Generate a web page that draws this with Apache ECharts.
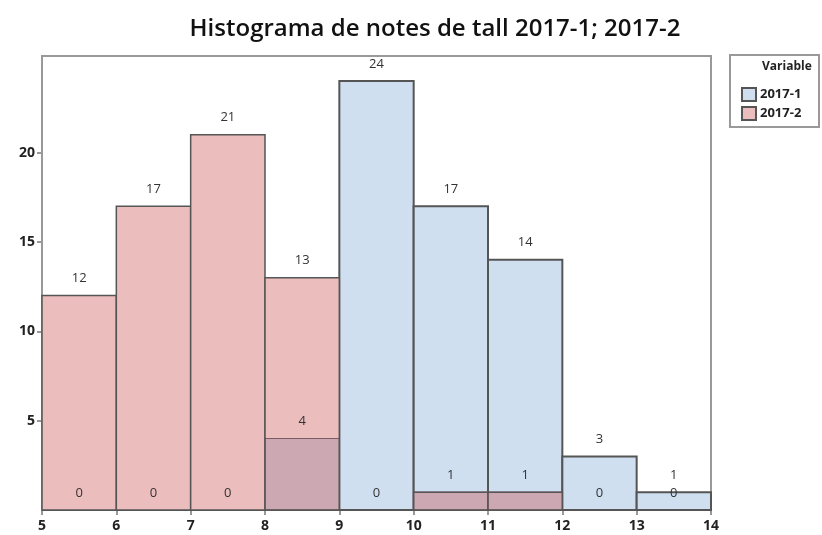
<!DOCTYPE html>
<html><head><meta charset="utf-8">
<script src="https://cdn.jsdelivr.net/npm/echarts@6/dist/echarts.min.js"></script>
<style>html,body{margin:0;padding:0;background:#fff}#c{width:822px;height:535px}</style>
</head><body><div id="c"></div>
<script>
var binStarts = [5, 6, 7, 8, 9, 10, 11, 12, 13];
var binWidth = 1;
var values2017_1 = [0, 0, 0, 4, 24, 17, 14, 3, 1];
var values2017_2 = [12, 17, 21, 13, 0, 1, 1, 0, 0];
var xTicks = [5, 6, 7, 8, 9, 10, 11, 12, 13, 14];
var yTicks = [5, 10, 15, 20];

var FONT = '"Open Sans", "Noto Sans", sans-serif';
var BLUE = '#cfdff0', RED = '#ebbdbd', OVER = '#cca8b2', EDGE = '#555555';

function dataFor(vals) {
  return binStarts.map(function (s, i) { return [s, s + binWidth, vals[i], i]; });
}

function makeRender(isRed) {
  return function (params, api) {
    var x0 = api.value(0), x1 = api.value(1), v = api.value(2), i = api.value(3);
    var p0 = api.coord([x0, 0]);
    var p1 = api.coord([x1, v]);
    var rect = { x: p0[0], y: p1[1], width: p1[0] - p0[0], height: p0[1] - p1[1] };
    var children = [];
    children.push({ type: 'rect', shape: rect, style: { fill: isRed ? RED : BLUE, stroke: null } });
    if (isRed) {
      var m = Math.min(values2017_1[i], values2017_2[i]);
      if (m > 0) {
        var q = api.coord([x1, m]);
        children.push({ type: 'rect', shape: { x: p0[0], y: q[1], width: q[0] - p0[0], height: p0[1] - q[1] },
          style: { fill: OVER, stroke: '#7d5a62', lineWidth: 1 } });
      }
    }
    children.push({ type: 'rect', shape: rect, style: { fill: null, stroke: EDGE, lineWidth: isRed ? 1.5 : 2 } });
    return { type: 'group', children: children };
  };
}

function renderLabels(params, api) {
  var x0 = api.value(0), x1 = api.value(1), v = api.value(2);
  var p0 = api.coord([x0, 0]);
  var p1 = api.coord([x1, v]);
  return { type: 'text', style: { text: String(v), x: (p0[0] + p1[0]) / 2, y: p1[1] - 17,
    align: 'center', verticalAlign: 'middle', fill: '#333', font: '13px ' + FONT } };
}

var chart = echarts.init(document.getElementById('c'));
chart.setOption({
  animation: false,
  title: { text: 'Histograma de notes de tall 2017-1; 2017-2', left: 430, top: 12, textAlign: 'center',
    textStyle: { fontFamily: FONT, fontWeight: 600, fontSize: 24, color: '#111' } },
  grid: { left: 42, right: 111, top: 56, bottom: 25, show: true, borderColor: '#999', borderWidth: 2,
    backgroundColor: 'transparent', outerBoundsMode: 'none', containLabel: false },
  xAxis: { type: 'value', min: 5, max: 14, interval: 1,
    axisLine: { show: false },
    axisTick: { show: true, length: 5, lineStyle: { color: '#999', width: 2 } },
    axisLabel: { fontFamily: FONT, fontWeight: 'bold', fontSize: 14, color: '#222', margin: 9,
      formatter: function (v) { return xTicks.indexOf(v) >= 0 ? String(v) : ''; } },
    splitLine: { show: false } },
  yAxis: { type: 'value', min: 0, max: 25.4, interval: 5,
    axisLine: { show: false },
    axisTick: { show: true, length: 5, lineStyle: { color: '#999', width: 2 },
      customValues: yTicks },
    axisLabel: { fontFamily: FONT, fontWeight: 'bold', fontSize: 14, color: '#222', margin: 7,
      customValues: yTicks },
    splitLine: { show: false } },
  legend: { orient: 'vertical', left: 736, top: 82, itemWidth: 14, itemHeight: 13, itemGap: 4,
    icon: 'rect', selectedMode: false,
    textStyle: { fontFamily: FONT, fontWeight: 'bold', fontSize: 13, color: '#222', padding: [0, 0, 0, -1] },
    data: [
      { name: '2017-1', itemStyle: { color: BLUE, borderColor: EDGE, borderWidth: 2 } },
      { name: '2017-2', itemStyle: { color: RED, borderColor: EDGE, borderWidth: 2 } }
    ] },
  graphic: [
    { type: 'rect', left: 729, top: 54, shape: { width: 89, height: 72 }, style: { fill: '#fff', stroke: '#999', lineWidth: 2 }, z: -1 },
    { type: 'text', left: 762, top: 61, style: { text: 'Variable', font: 'bold 12px ' + FONT, fill: '#222' } }
  ],
  series: [
    { name: '2017-1', type: 'custom', renderItem: makeRender(false), data: dataFor(values2017_1),
      encode: { x: [0, 1], y: 2 }, itemStyle: { color: BLUE, borderColor: EDGE }, z: 2 },
    { name: '2017-2', type: 'custom', renderItem: makeRender(true), data: dataFor(values2017_2),
      encode: { x: [0, 1], y: 2 }, itemStyle: { color: RED, borderColor: EDGE }, z: 3 },
    { name: 'labels-1', type: 'custom', renderItem: renderLabels, data: dataFor(values2017_1),
      encode: { x: [0, 1], y: 2 }, z: 5, silent: true },
    { name: 'labels-2', type: 'custom', renderItem: renderLabels, data: dataFor(values2017_2),
      encode: { x: [0, 1], y: 2 }, z: 5, silent: true }
  ]
});
</script></body></html>
